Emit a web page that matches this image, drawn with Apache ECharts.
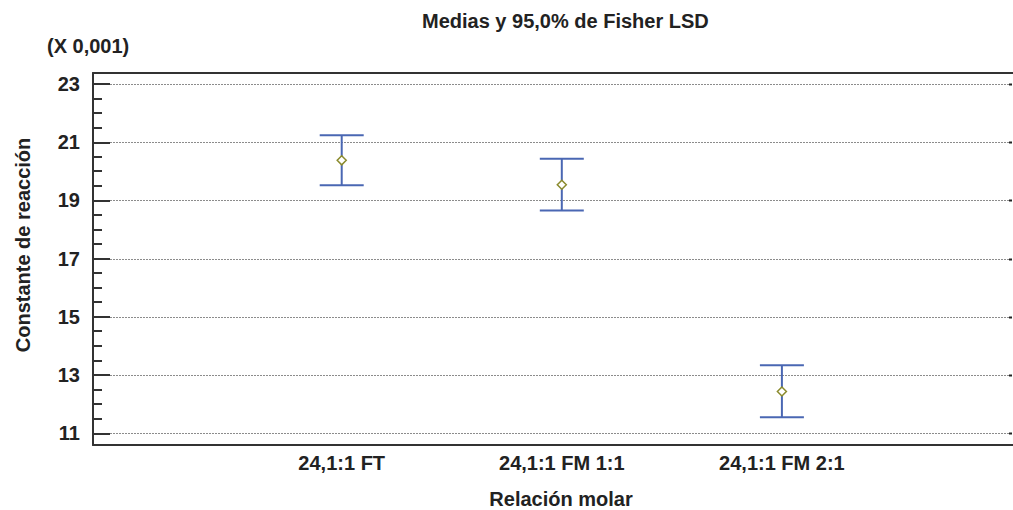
<!DOCTYPE html>
<html><head><meta charset="utf-8">
<script src="https://cdn.jsdelivr.net/npm/echarts@6/dist/echarts.min.js"></script>
<style>html,body{margin:0;padding:0;background:#fff}#c{width:1013px;height:510px}</style>
</head><body><div id="c"></div>
<script>
// ---- data ----
const categories = ['24,1:1 FT', '24,1:1 FM 1:1', '24,1:1 FM 2:1'];
const positions = [1, 2, 3];
const means = [20.38, 19.54, 12.44];
const lower = [19.52, 18.66, 11.55];
const upper = [21.24, 20.43, 13.34];
const yTicks = [11, 13, 15, 17, 19, 21, 23];
const yMinorStep = 0.5;
const titleText = 'Medias y 95,0% de Fisher LSD';
const scaleText = '(X 0,001)';
const xName = 'Relación molar';
const yName = 'Constante de reacción';

// ---- derived ----
const yMinor = [];
for (let v = yTicks[0]; v <= yTicks[yTicks.length - 1] + 1e-9; v += yMinorStep) {
  const r = Math.round(v * 10) / 10;
  if (yTicks.indexOf(r) < 0) yMinor.push(r);
}
const xMin = -0.13, xMax = 4.05, yMin = 10.6, yMax = 23.38;
const FONT = 'Liberation Sans, Arial, sans-serif';
const TXT = '#222';
const BLUE = '#4a67b3';
const OLIVE = '#8a8a2c';

const chart = echarts.init(document.getElementById('c'), null, {renderer: 'svg'});
chart.setOption({
  animation: false,
  backgroundColor: '#fff',
  title: [
    {text: titleText, left: 417, top: 6,
     textStyle: {fontFamily: FONT, fontSize: 20, fontWeight: 'bold', color: TXT}},
    {text: scaleText, left: 42, top: 31,
     textStyle: {fontFamily: FONT, fontSize: 20, fontWeight: 'bold', color: TXT}}
  ],
  grid: {left: 93, right: 0, top: 73, bottom: 65, containLabel: false, outerBoundsMode: 'none'},
  xAxis: [
    {type: 'value', position: 'bottom', min: xMin, max: xMax,
     axisLine: {show: true, lineStyle: {color: '#333', width: 2}},
     axisTick: {show: false}, splitLine: {show: false},
     axisLabel: {customValues: positions, formatter: v => categories[positions.indexOf(v)] || '',
       margin: 8, fontFamily: FONT, fontSize: 20, fontWeight: 'bold', color: TXT},
     name: xName, nameLocation: 'middle', nameGap: 44,
     nameTextStyle: {fontFamily: FONT, fontSize: 20, lineHeight: 20, fontWeight: 'bold', color: TXT, padding: [0, 0, 0, 16]}},
    {type: 'value', position: 'top', min: xMin, max: xMax,
     axisLine: {show: true, onZero: false, lineStyle: {color: '#333', width: 2}},
     axisTick: {show: false}, axisLabel: {show: false}, splitLine: {show: false}}
  ],
  yAxis: [
    {type: 'value', position: 'left', min: yMin, max: yMax,
     axisLine: {show: true, onZero: false, lineStyle: {color: '#333', width: 2}},
     axisTick: {show: true, inside: true, length: 17, customValues: yTicks, lineStyle: {color: '#333', width: 2}},
     axisLabel: {customValues: yTicks, margin: 13, fontFamily: FONT, fontSize: 20, fontWeight: 'bold', color: TXT},
     splitLine: {show: false},
     name: yName, nameLocation: 'middle', nameGap: 60, nameRotate: 90,
     nameTextStyle: {fontFamily: FONT, fontSize: 20, fontWeight: 'bold', color: TXT, padding: [0, 0, 0, 28]}}
  ],
  series: [
    {
      // dotted gridlines at the major ticks
      type: 'custom', xAxisIndex: 0, yAxisIndex: 0, silent: true, z: 1,
      data: yTicks.map(v => [v]),
      renderItem(params, api) {
        const v = api.value(0);
        const a = api.coord([xMin, v]);
        const b = api.coord([xMax, v]);
        const y = Math.round(a[1]) + 0.5;
        return {type: 'group', children: [
          {type: 'line', shape: {x1: a[0] + 17, y1: y, x2: b[0] - 4, y2: y},
           style: {stroke: '#8c8c8c', lineWidth: 1, lineDash: [2, 1]}},
          {type: 'rect', shape: {x: b[0] - 4, y: y - 1, width: 3, height: 2}, style: {fill: '#222'}}
        ]};
      }
    },
    {
      // minor ticks on the value axis
      type: 'custom', xAxisIndex: 0, yAxisIndex: 0, silent: true, z: 2,
      data: yMinor.map(v => [v]),
      renderItem(params, api) {
        const a = api.coord([xMin, api.value(0)]);
        const y = Math.round(a[1]);
        return {type: 'line', shape: {x1: a[0], y1: y, x2: a[0] + 9, y2: y},
                style: {stroke: '#333', lineWidth: 2}};
      }
    },
    {
      type: 'custom', xAxisIndex: 0, yAxisIndex: 0, silent: true, z: 3,
      data: positions.map((p, i) => [p, lower[i], upper[i], means[i]]),
      encode: {x: 0, y: [1, 2, 3]},
      renderItem(params, api) {
        const x = api.value(0);
        const lo = api.coord([x, api.value(1)]);
        const hi = api.coord([x, api.value(2)]);
        const m = api.coord([x, api.value(3)]);
        const hw = 22, d = 4.5;
        const ls = {stroke: BLUE, lineWidth: 2};
        return {type: 'group', children: [
          {type: 'line', shape: {x1: lo[0], y1: lo[1], x2: hi[0], y2: hi[1]}, style: ls},
          {type: 'line', shape: {x1: hi[0] - hw, y1: hi[1], x2: hi[0] + hw, y2: hi[1]}, style: ls},
          {type: 'line', shape: {x1: lo[0] - hw, y1: lo[1], x2: lo[0] + hw, y2: lo[1]}, style: ls},
          {type: 'polygon', shape: {points: [[m[0], m[1] - d], [m[0] + d, m[1]], [m[0], m[1] + d], [m[0] - d, m[1]]]},
           style: {fill: '#fff', stroke: OLIVE, lineWidth: 1.5}}
        ]};
      }
    }
  ]
});
</script>
</body></html>
